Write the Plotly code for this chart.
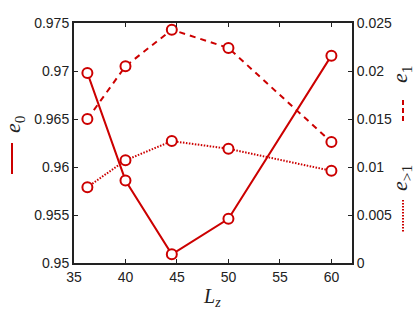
import plotly.graph_objects as go

Lz = [36.3, 40, 44.5, 50, 60]
e0 = [0.9698, 0.9586, 0.9509, 0.9546, 0.9716]
e1 = [0.0150, 0.0205, 0.0243, 0.0224, 0.0126]
e_gt1 = [0.0079, 0.0107, 0.0127, 0.0119, 0.0096]

x_ticks = [35, 40, 45, 50, 55, 60]
y_left_ticks = [0.95, 0.955, 0.96, 0.965, 0.97, 0.975]
y_left_labels = ["0.95", "0.955", "0.96", "0.965", "0.97", "0.975"]
y_right_ticks = [0, 0.005, 0.01, 0.015, 0.02, 0.025]
y_right_labels = ["0", "0.005", "0.01", "0.015", "0.02", "0.025"]

RED = "#cc0000"
marker = dict(symbol="circle", size=10, color="white", line=dict(color=RED, width=2))

fig = go.Figure()
fig.add_trace(go.Scatter(x=Lz, y=e0, mode="lines+markers", line=dict(color=RED, width=2),
                         marker=marker, yaxis="y", cliponaxis=False))
fig.add_trace(go.Scatter(x=Lz, y=e1, mode="lines+markers", line=dict(color=RED, width=2, dash="6px,5px"),
                         marker=marker, yaxis="y2", cliponaxis=False))
fig.add_trace(go.Scatter(x=Lz, y=e_gt1, mode="lines+markers", line=dict(color=RED, width=2, dash="1.5px,1.5px"),
                         marker=marker, yaxis="y2", cliponaxis=False))

tickfont = dict(family="Liberation Sans, Arial, sans-serif", size=14, color="#222")
axcommon = dict(showgrid=False, zeroline=False, showline=True, linecolor="#222", linewidth=2,
                ticks="inside", ticklen=4, tickwidth=1, tickcolor="#222", tickfont=tickfont)

fig.update_layout(
    width=415, height=312,
    margin=dict(l=74, r=63, t=23, b=49, autoexpand=False),
    plot_bgcolor="white", paper_bgcolor="white",
    showlegend=False,
    xaxis=dict(range=[35, 62], tickvals=x_ticks, mirror="ticks", **axcommon),
    yaxis=dict(range=[0.95, 0.975], tickvals=y_left_ticks, ticktext=y_left_labels, **axcommon),
    yaxis2=dict(range=[0, 0.025], tickvals=y_right_ticks, ticktext=y_right_labels,
                overlaying="y", side="right", **axcommon),
)

serif_e = dict(family="Liberation Serif, Times New Roman, serif", size=22, color="#222")
serif_l = dict(family="Liberation Serif, Times New Roman, serif", size=20, color="#222")


def px2x(px):
    # screen px -> paper coordinate (plot area spans x 74..352)
    return (px - 74.0) / 278.0


def px2y(py):
    # screen px -> paper coordinate (plot area spans y 23..263)
    return (263.0 - py) / 240.0


annos = [
    dict(text="<i>e</i><sub>0</sub>", x=px2x(14), y=px2y(124), textangle=-90, font=serif_e),
    dict(text="<i>e</i><sub>1</sub>", x=px2x(401), y=px2y(75), textangle=-90, font=serif_e),
    dict(text="<i>e</i><sub>&gt;1</sub>", x=px2x(401), y=px2y(178), textangle=-90, font=serif_e),
    dict(text="<i>L</i><sub><i>z</i></sub>", x=px2x(212), y=px2y(297), textangle=0, font=serif_l),
]
for a in annos:
    fig.add_annotation(xref="paper", yref="paper", showarrow=False,
                       xanchor="center", yanchor="middle", **a)

fig.add_shape(type="line", xref="paper", yref="paper", x0=px2x(12), x1=px2x(12),
              y0=px2y(143), y1=px2y(174), line=dict(color=RED, width=2))
fig.add_shape(type="line", xref="paper", yref="paper", x0=px2x(403), x1=px2x(403),
              y0=px2y(100), y1=px2y(122), line=dict(color=RED, width=2, dash="5px,3px"))
fig.add_shape(type="line", xref="paper", yref="paper", x0=px2x(403), x1=px2x(403),
              y0=px2y(200), y1=px2y(232), line=dict(color=RED, width=2, dash="1.5px,1.5px"))

fig.write_html("out.html", config={"displayModeBar": False},
               post_script="document.body.style.margin='0px';document.body.style.overflow='hidden';")
